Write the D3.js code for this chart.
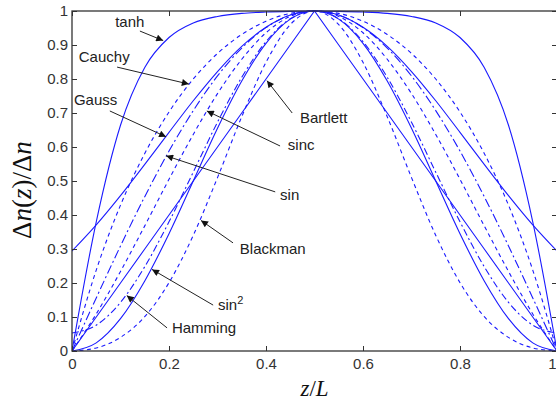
<!DOCTYPE html>
<html><head><meta charset="utf-8">
<script src="https://cdn.jsdelivr.net/npm/d3@7/dist/d3.min.js"></script>
<style>body{margin:0;background:#fff}svg{display:block}</style>
</head><body>
<svg id="chart" width="556" height="402"></svg>
<script>
// ---- data ----
const zValues   = [0,0.05,0.1,0.15,0.2,0.25,0.3,0.35,0.4,0.45,0.5,0.55,0.6,0.65,0.7,0.75,0.8,0.85,0.9,0.95,1];
const tanhVals  = [0,0.380,0.664,0.834,0.922,0.965,0.984,0.993,0.997,0.999,1,0.999,0.997,0.993,0.984,0.965,0.922,0.834,0.664,0.380,0];
const cauchyVals= [0,0.238,0.429,0.581,0.703,0.800,0.875,0.931,0.970,0.993,1,0.993,0.970,0.931,0.875,0.800,0.703,0.581,0.429,0.238,0];
const gaussVals = [0.294,0.371,0.457,0.549,0.643,0.736,0.822,0.896,0.952,0.988,1,0.988,0.952,0.896,0.822,0.736,0.643,0.549,0.457,0.371,0.294];
const sincVals  = [0,0.109,0.234,0.368,0.505,0.637,0.757,0.858,0.936,0.984,1,0.984,0.936,0.858,0.757,0.637,0.505,0.368,0.234,0.109,0];
const sinVals   = [0,0.156,0.309,0.454,0.588,0.707,0.809,0.891,0.951,0.988,1,0.988,0.951,0.891,0.809,0.707,0.588,0.454,0.309,0.156,0];
const bartlettVals=[0,0.1,0.2,0.3,0.4,0.5,0.6,0.7,0.8,0.9,1,0.9,0.8,0.7,0.6,0.5,0.4,0.3,0.2,0.1,0];
const blackmanVals=[0,0.009,0.040,0.101,0.201,0.340,0.510,0.689,0.849,0.960,1,0.960,0.849,0.689,0.510,0.340,0.201,0.101,0.040,0.009,0];
const sin2Vals  = [0,0.024,0.095,0.206,0.345,0.500,0.655,0.794,0.905,0.976,1,0.976,0.905,0.794,0.655,0.500,0.345,0.206,0.095,0.024,0];
const hammingVals=[0.053,0.076,0.143,0.248,0.380,0.526,0.673,0.805,0.910,0.977,1,0.977,0.910,0.805,0.673,0.526,0.380,0.248,0.143,0.076,0.053];
const xTicks = [0,0.2,0.4,0.6,0.8,1];
const xTickLabels = ["0","0.2","0.4","0.6","0.8","1"];
const yTicks = [0,0.1,0.2,0.3,0.4,0.5,0.6,0.7,0.8,0.9,1];
const yTickLabels = ["0","0.1","0.2","0.3","0.4","0.5","0.6","0.7","0.8","0.9","1"];
const seriesNames = ["tanh","Cauchy","Gauss","sinc","sin","Bartlett","Blackman","sin2","Hamming"];

// ---- layout / style ----
const pL=72, pR=557, pT=11, pB=351;
const svg = d3.select("#chart");
const x = d3.scaleLinear().domain([0,1]).range([pL,pR]);
const y = d3.scaleLinear().domain([0,1]).range([pB,pT]);

const series = [
  {name:"tanh", vals:tanhVals, dash:null},
  {name:"Cauchy", vals:cauchyVals, dash:"4,3.5"},
  {name:"Gauss", vals:gaussVals, dash:null},
  {name:"sinc", vals:sincVals, dash:"4,3.5"},
  {name:"sin", vals:sinVals, dash:"9,3,2,3"},
  {name:"Bartlett", vals:bartlettVals, dash:null, linear:true},
  {name:"Blackman", vals:blackmanVals, dash:"4,3.5"},
  {name:"sin2", vals:sin2Vals, dash:null},
  {name:"Hamming", vals:hammingVals, dash:"7,3,2,3"}
];

const defs = svg.append("defs");
defs.append("clipPath").attr("id","clip")
  .append("rect").attr("x",pL).attr("y",pT-1).attr("width",pR-pL).attr("height",pB-pT+2);
defs.append("marker").attr("id","ah")
  .attr("viewBox","0 0 10 10").attr("refX",10).attr("refY",5)
  .attr("markerWidth",10).attr("markerHeight",7).attr("markerUnits","userSpaceOnUse")
  .attr("orient","auto")
  .append("path").attr("d","M0,0 L10,5 L0,10 Z").attr("fill","#111");

const g = svg.append("g").attr("clip-path","url(#clip)");
series.forEach(s=>{
  const line = d3.line().x((d,i)=>x(zValues[i])).y(d=>y(d))
    .curve(s.linear ? d3.curveLinear : d3.curveMonotoneX);
  g.append("path").datum(s.vals).attr("d",line)
    .attr("fill","none").attr("stroke","#1a1aff").attr("stroke-width",1.1)
    .attr("stroke-dasharray", s.dash);
});

// axes (box, ticks inward)
const axColor="#333";
const ax = (sel)=>{ sel.selectAll("path.domain").remove(); sel.selectAll("line").attr("stroke",axColor); sel.selectAll("text").attr("fill","#333").style("font-family","'Liberation Sans',Arial,sans-serif").style("font-size","15px"); };
const xb = svg.append("g").attr("transform",`translate(0,${pB})`)
  .call(d3.axisBottom(x).tickValues(xTicks).tickFormat((d,i)=>xTickLabels[i]).tickSize(-5).tickPadding(7)).call(ax);
// keep the last label inside the picture
xb.selectAll(".tick text").filter(d=>d===1).attr("text-anchor","end").attr("dx",-1);
svg.append("g").attr("transform",`translate(0,${pT})`)
  .call(d3.axisTop(x).tickValues(xTicks).tickFormat("").tickSize(-5)).call(ax);
svg.append("g").attr("transform",`translate(${pL},0)`)
  .call(d3.axisLeft(y).tickValues(yTicks).tickFormat((d,i)=>yTickLabels[i]).tickSize(-5).tickPadding(4)).call(ax);
svg.append("g").attr("transform",`translate(${pR},0)`)
  .call(d3.axisRight(y).tickValues(yTicks).tickFormat("").tickSize(-5)).call(ax);
svg.append("rect").attr("x",pL).attr("y",pT).attr("width",pR-pL).attr("height",pB-pT)
  .attr("fill","none").attr("stroke",axColor).attr("stroke-width",1.3);

// annotations (positions in data units)
const notes = [
  {t:"tanh",    tx:0.089, ty:0.953, a:[0.140,0.941], b:[0.188,0.913]},
  {t:"Cauchy",  tx:0.014, ty:0.850, a:[0.093,0.835], b:[0.241,0.785]},
  {t:"Gauss",   tx:0.004, ty:0.724, a:[0.078,0.706], b:[0.194,0.630]},
  {t:"Bartlett",tx:0.470, ty:0.671, a:[0.454,0.700], b:[0.402,0.795]},
  {t:"sinc",    tx:0.445, ty:0.591, a:[0.429,0.603], b:[0.278,0.706]},
  {t:"sin",     tx:0.429, ty:0.444, a:[0.419,0.468], b:[0.194,0.574]},
  {t:"Blackman",tx:0.346, ty:0.285, a:[0.332,0.318], b:[0.266,0.384]},
  {t:"sin",sup:"2", tx:0.301, ty:0.121, a:[0.291,0.135], b:[0.165,0.240]},
  {t:"Hamming", tx:0.206, ty:0.053, a:[0.196,0.068], b:[0.113,0.163]}
];
const ann = svg.append("g");
notes.forEach(n=>{
  ann.append("line").attr("x1",x(n.a[0])).attr("y1",y(n.a[1])).attr("x2",x(n.b[0])).attr("y2",y(n.b[1]))
    .attr("stroke","#222").attr("stroke-width",1).attr("marker-end","url(#ah)");
  const t = ann.append("text").attr("x",x(n.tx)).attr("y",y(n.ty))
    .style("font-family","'Liberation Sans',Arial,sans-serif").style("font-size","15px").attr("fill","#222").text(n.t);
  if(n.sup) t.append("tspan").attr("dy",-6).style("font-size","11px").text(n.sup);
});

// axis titles
const xl = svg.append("text").attr("x",(pL+pR)/2).attr("y",396).attr("text-anchor","middle")
  .style("font-family","'Liberation Serif','Times New Roman',serif").style("font-size","23px").attr("fill","#111");
xl.append("tspan").style("font-style","italic").text("z");
xl.append("tspan").text("/");
xl.append("tspan").style("font-style","italic").text("L");

const yl = svg.append("text").attr("transform","translate(31,190) rotate(-90)").attr("text-anchor","middle")
  .style("font-family","'Liberation Serif','Times New Roman',serif").style("font-size","27px").attr("fill","#111");
yl.append("tspan").text("Δ");
yl.append("tspan").style("font-style","italic").text("n");
yl.append("tspan").text("(");
yl.append("tspan").style("font-style","italic").text("z");
yl.append("tspan").text(")/Δ");
yl.append("tspan").style("font-style","italic").text("n");
</script>
</body></html>
